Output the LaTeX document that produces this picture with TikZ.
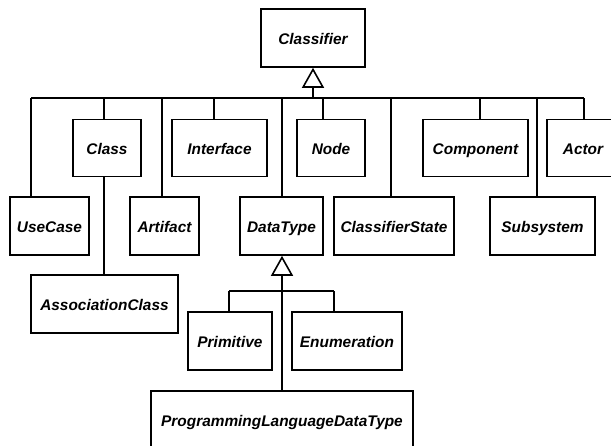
\documentclass[tikz,border=0pt]{standalone}
\usepackage{fontspec}
\setmainfont{Liberation Sans}
\usetikzlibrary{arrows.meta}
\tikzset{
  umlbox/.style={draw, line width=1.6pt, rectangle, inner sep=0pt,
    text height=13.5pt, text depth=0.5pt,
    font=\bfseries\itshape\fontsize{15.4}{18}\selectfont, fill=white},
  conn/.style={line width=1.6pt},
  gen/.style={line width=1.6pt, -{Triangle[open, width=22pt, length=20pt, line width=1.6pt]}}
}
\begin{document}
\begin{tikzpicture}[x=1pt,y=-1pt]
\useasboundingbox (0,0) rectangle (611,445);
\clip (0,0) rectangle (611,445);
\fill[white] (0,0) rectangle (611,445);
% nodes
\node[umlbox, minimum width=104pt, minimum height=58pt] (classifier) at (313,38) {Classifier};
\node[umlbox, minimum width=68pt, minimum height=57pt] (class) at (107,148) {Class};
\node[umlbox, minimum width=95pt, minimum height=57pt] (interface) at (219.5,148) {Interface};
\node[umlbox, minimum width=68pt, minimum height=57pt] (nodebox) at (331,148) {Node};
\node[umlbox, minimum width=105pt, minimum height=57pt] (component) at (475.5,148) {Component};
\node[umlbox, minimum width=72pt, minimum height=57pt] (actor) at (583,148) {Actor};
\node[umlbox, minimum width=79pt, minimum height=58pt] (usecase) at (49.5,226) {UseCase};
\node[umlbox, minimum width=69pt, minimum height=58pt] (artifact) at (164.5,226) {Artifact};
\node[umlbox, minimum width=83pt, minimum height=58pt] (datatype) at (281.5,226) {DataType};
\node[umlbox, minimum width=120pt, minimum height=58pt] (cstate) at (394,226) {ClassifierState};
\node[umlbox, minimum width=105pt, minimum height=58pt] (subsystem) at (542.5,226) {Subsystem};
\node[umlbox, minimum width=147pt, minimum height=58pt] (assoc) at (104.5,304) {AssociationClass};
\node[umlbox, minimum width=84pt, minimum height=58pt] (primitive) at (230,341) {Primitive};
\node[umlbox, minimum width=110pt, minimum height=58pt] (enum) at (347,341) {Enumeration};
\node[umlbox, minimum width=262pt, minimum height=58pt] (proglang) at (282,420) {ProgrammingLanguageDataType};
% bus coordinates (top level)
\coordinate (bTop) at (313,98);
\coordinate (sUse) at (31,98);
\coordinate (sClass) at (104,98);
\coordinate (sArt) at (162,98);
\coordinate (sInt) at (214,98);
\coordinate (sDT) at (282,98);
\coordinate (sNode) at (323,98);
\coordinate (sCS) at (391,98);
\coordinate (sComp) at (480,98);
\coordinate (sSub) at (537,98);
\coordinate (sAct) at (584,98);
% generalization to Classifier
\draw[gen] (bTop) -- (classifier.south);
\draw[conn] (sUse) -- (sAct);
\draw[conn] (sUse) -- (usecase.north -| sUse);
\draw[conn] (sClass) -- (class.north -| sClass);
\draw[conn] (sArt) -- (artifact.north -| sArt);
\draw[conn] (sInt) -- (interface.north -| sInt);
\draw[conn] (sDT) -- (datatype.north -| sDT);
\draw[conn] (sNode) -- (nodebox.north -| sNode);
\draw[conn] (sCS) -- (cstate.north -| sCS);
\draw[conn] (sComp) -- (component.north -| sComp);
\draw[conn] (sSub) -- (subsystem.north -| sSub);
\draw[conn] (sAct) -- (actor.north -| sAct);
% AssociationClass
\draw[conn] (class.south -| sClass) -- (assoc.north -| sClass);
% DataType hierarchy
\coordinate (dJoin) at (282,291);
\coordinate (sPrim) at (229,291);
\coordinate (sEnum) at (334,291);
\draw[gen] (proglang.north -| dJoin) -- (datatype.south -| dJoin);
\draw[conn] (sPrim) -- (sEnum);
\draw[conn] (sPrim) -- (primitive.north -| sPrim);
\draw[conn] (sEnum) -- (enum.north -| sEnum);
\end{tikzpicture}
\end{document}
